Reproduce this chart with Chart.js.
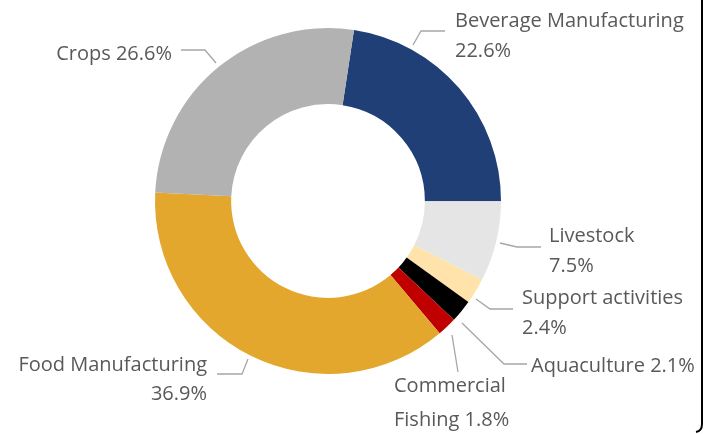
<!DOCTYPE html>
<html>
<head>
<meta charset="utf-8">
<script src="https://cdn.jsdelivr.net/npm/chart.js@4.4.1/dist/chart.umd.min.js"></script>
<style>
  html, body { margin: 0; padding: 0; background: #fff; }
  #wrap { width: 713px; height: 434px; }
</style>
</head>
<body>
<div id="wrap"><canvas id="chart" width="713" height="434"></canvas></div>
<script>
// data, clockwise starting with Beverage Manufacturing
const categories = ["Beverage Manufacturing", "Livestock", "Support activities", "Aquaculture",
  "Commercial Fishing", "Food Manufacturing", "Crops"];
const shares = [22.6, 7.5, 2.4, 2.1, 1.8, 36.9, 26.6];
const sliceColors = ["#203F77", "#E5E5E5", "#FFE3AA", "#000000", "#C00000", "#E3A72E", "#B2B2B2"];

// label lines as shown in the picture (text split in lines)
const labelText = [
  ["Beverage Manufacturing", "22.6%"],
  ["Livestock", "7.5%"],
  ["Support activities", "2.4%"],
  ["Aquaculture 2.1%"],
  ["Commercial", "Fishing 1.8%"],
  ["Food Manufacturing", "36.9%"],
  ["Crops 26.6%"]
];

// leader line points and text anchor, relative to the doughnut centre
const labelLayout = [
  { line: [[85, -156], [93, -170], [117, -170]], x: 127, y: -174, align: "left", gap: 30 },
  { line: [[172, 42], [189, 46], [213, 46]], x: 221, y: 41, align: "left", gap: 30 },
  { line: [[148, 98], [162, 108], [185, 108]], x: 194, y: 103, align: "left", gap: 30 },
  { line: [[134, 122], [176, 163], [199, 163]], x: 203, y: 171, align: "left", gap: 30 },
  { line: [[124, 134], [130, 171]], x: 66, y: 191, align: "left", gap: 34 },
  { line: [[-80, 158], [-86, 173], [-111, 173]], x: -121, y: 170, align: "right", gap: 29 },
  { line: [[-112, -138], [-123, -151], [-147, -151]], x: -156, y: -141, align: "right", gap: 30 }
];

const labelPlugin = {
  id: "outsideLabels",
  afterDatasetsDraw(chart) {
    const ctx = chart.ctx;
    const arcs = chart.getDatasetMeta(0).data;
    const cx = arcs[0].x, cy = arcs[0].y;
    ctx.save();
    labelLayout.forEach((lay, i) => {
      // leader line
      ctx.strokeStyle = "#A6A6A6";
      ctx.lineWidth = 1.3;
      ctx.beginPath();
      lay.line.forEach((p, k) => {
        if (k === 0) ctx.moveTo(cx + p[0], cy + p[1]);
        else ctx.lineTo(cx + p[0], cy + p[1]);
      });
      ctx.stroke();
      // text
      ctx.fillStyle = "#595959";
      ctx.font = "20px 'Open Sans'";
      ctx.textAlign = lay.align;
      ctx.textBaseline = "alphabetic";
      labelText[i].forEach((t, k) => {
        ctx.fillText(t, cx + lay.x, cy + lay.y + k * lay.gap);
      });
    });
    ctx.restore();
  }
};

// right edge of the chart frame
const framePlugin = {
  id: "frameEdge",
  afterDraw(chart) {
    const ctx = chart.ctx;
    ctx.save();
    ctx.strokeStyle = "#000";
    ctx.lineWidth = 2;
    ctx.beginPath();
    ctx.moveTo(702, 0);
    ctx.lineTo(702, 424);
    ctx.quadraticCurveTo(702, 431, 696, 432);
    ctx.stroke();
    ctx.restore();
  }
};

new Chart(document.getElementById("chart"), {
  type: "doughnut",
  data: {
    labels: categories,
    datasets: [{
      data: shares,
      backgroundColor: sliceColors,
      borderWidth: 0
    }]
  },
  options: {
    responsive: false,
    animation: false,
    cutout: "56%",
    rotation: 90 - shares[0] * 3.6,
    layout: { padding: { left: 155, right: 212, top: 28, bottom: 60 } },
    plugins: {
      legend: { display: false },
      tooltip: { enabled: false }
    }
  },
  plugins: [labelPlugin, framePlugin]
});
</script>
</body>
</html>
